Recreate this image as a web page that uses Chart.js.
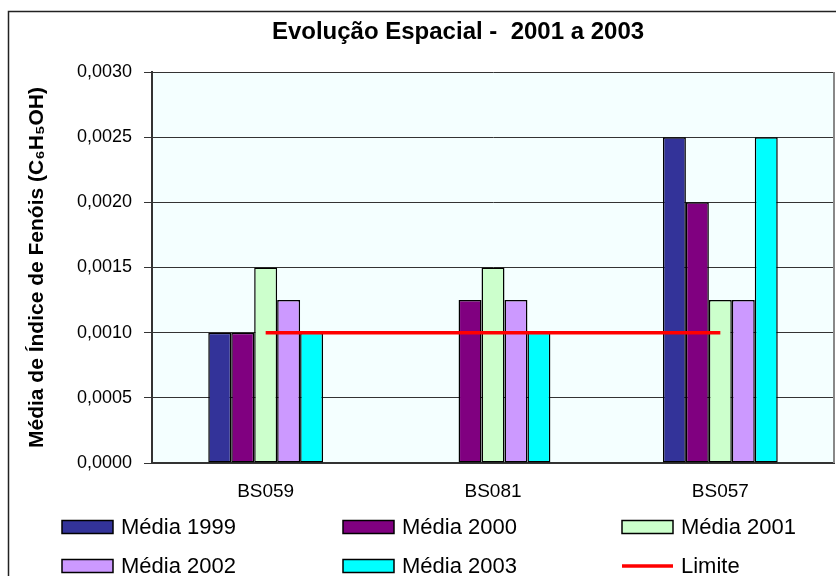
<!DOCTYPE html>
<html>
<head>
<meta charset="utf-8">
<script src="https://cdn.jsdelivr.net/npm/chart.js@4"></script>
<style>
  body { margin: 0; background: #fff; }
  canvas { display: block; }
</style>
</head>
<body>
<canvas id="barChart" width="836" height="576"></canvas>
<script>
const categories = ["BS059", "BS081", "BS057"];
const media1999 = [0.0010, null, 0.0025];
const media2000 = [0.0010, 0.00125, 0.0020];
const media2001 = [0.0015, 0.0015, 0.00125];
const media2002 = [0.00125, 0.00125, 0.00125];
const media2003 = [0.0010, 0.0010, 0.0025];
const limite = [0.0010, 0.0010, 0.0010];
const yTicks = [0, 0.0005, 0.0010, 0.0015, 0.0020, 0.0025, 0.0030];

const chartTitle = "Evolução Espacial -  2001 a 2003";
const yTitle = "Média de Índice de Fenóis (C₆H₅OH)";

Chart.defaults.font.family = '"Liberation Sans", Arial, sans-serif';
Chart.defaults.color = "#000";

// plot background, outer frame, title and the 3-column legend
const decor = {
    id: "decor",
    beforeDraw(chart) {
        const { ctx, chartArea } = chart;
        ctx.save();
        ctx.fillStyle = "#F4FFFF";
        ctx.fillRect(chartArea.left, chartArea.top, chartArea.right - chartArea.left, chartArea.bottom - chartArea.top);
        ctx.restore();
    },
    afterDraw(chart) {
        const { ctx, chartArea } = chart;
        ctx.save();

        // right edge of plot
        ctx.strokeStyle = "#888";
        ctx.lineWidth = 2;
        ctx.beginPath();
        ctx.moveTo(chartArea.right, chartArea.top);
        ctx.lineTo(chartArea.right, chartArea.bottom);
        ctx.stroke();

        // outer frame
        ctx.strokeStyle = "#222";
        ctx.lineWidth = 1.5;
        ctx.strokeRect(8.5, 11.5, 900, 900);

        // title
        ctx.fillStyle = "#000";
        ctx.font = 'bold 24px "Liberation Sans", Arial, sans-serif';
        ctx.textAlign = "center";
        ctx.textBaseline = "alphabetic";
        ctx.fillText(chartTitle, 458, 39);

        // legend
        const cols = [62, 343, 622];
        const rows = [527, 566];
        ctx.font = '22px "Liberation Sans", Arial, sans-serif';
        ctx.textAlign = "left";
        ctx.textBaseline = "middle";
        chart.data.datasets.forEach((ds, i) => {
            const x = cols[i % 3];
            const y = rows[Math.floor(i / 3)];
            if (ds.type === "line") {
                ctx.strokeStyle = ds.borderColor;
                ctx.lineWidth = 3.5;
                ctx.beginPath();
                ctx.moveTo(x, y);
                ctx.lineTo(x + 51, y);
                ctx.stroke();
            } else {
                ctx.fillStyle = ds.backgroundColor;
                ctx.fillRect(x, y - 6.5, 51, 13);
                ctx.strokeStyle = "#000";
                ctx.lineWidth = 1.5;
                ctx.strokeRect(x, y - 6.5, 51, 13);
            }
            ctx.fillStyle = "#000";
            ctx.fillText(ds.label, x + 59, y + 1);
        });
        ctx.restore();
    },
};

const barStyle = {
    borderColor: "#000",
    borderWidth: 1.5,
    borderSkipped: false,
    categoryPercentage: 0.505,
    barPercentage: 1.0,
    order: 1,
};

const ctx = document.getElementById("barChart").getContext("2d");

new Chart(ctx, {
    type: "bar",
    data: {
        labels: categories,
        datasets: [
            { ...barStyle, label: "Média 1999", data: media1999, backgroundColor: "#333399" },
            { ...barStyle, label: "Média 2000", data: media2000, backgroundColor: "#800080" },
            { ...barStyle, label: "Média 2001", data: media2001, backgroundColor: "#CCFFCC" },
            { ...barStyle, label: "Média 2002", data: media2002, backgroundColor: "#CC99FF" },
            { ...barStyle, label: "Média 2003", data: media2003, backgroundColor: "#00FFFF" },
            {
                type: "line",
                label: "Limite",
                data: limite,
                borderColor: "#FF0000",
                backgroundColor: "#FF0000",
                borderWidth: 3.5,
                pointRadius: 0,
                fill: false,
                order: 0,
            },
        ],
    },
    options: {
        responsive: false,
        animation: false,
        layout: {
            padding: { top: 72, left: 10, right: 2, bottom: 68 },
        },
        plugins: {
            legend: { display: false },
            title: { display: false },
            tooltip: { enabled: false },
        },
        scales: {
            x: {
                grid: { display: false, drawTicks: false },
                border: { display: true, color: "#333", width: 2 },
                ticks: { font: { size: 19 }, padding: 17, color: "#000" },
                afterFit(scale) {
                    scale.height = 45;
                },
            },
            y: {
                min: 0,
                max: 0.003,
                afterBuildTicks(scale) {
                    scale.ticks = yTicks.map((v) => ({ value: v }));
                },
                grid: { color: "#333", lineWidth: 1, tickLength: 8, tickColor: "#333" },
                border: { display: true, color: "#333", width: 2 },
                ticks: {
                    font: { size: 18 },
                    padding: 12,
                    color: "#000",
                    callback: (v) => Number(v).toFixed(4).replace(".", ","),
                },
                title: {
                    display: true,
                    text: yTitle,
                    font: { size: 21, weight: "bold" },
                    padding: { top: 15, bottom: 0 },
                    color: "#000",
                },
                afterFit(scale) {
                    scale.width = 142;
                },
            },
        },
    },
    plugins: [decor],
});
</script>
</body>
</html>
